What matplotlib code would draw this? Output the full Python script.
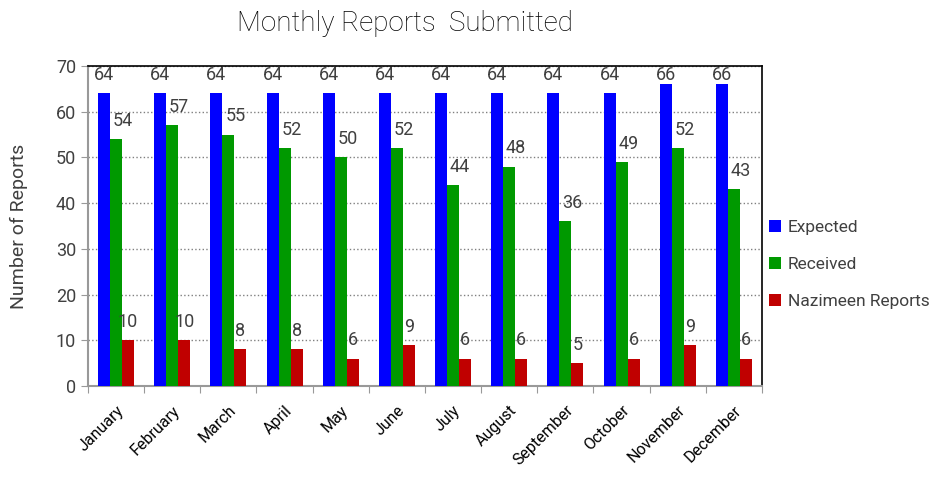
import numpy as np
import matplotlib.pyplot as plt
from matplotlib.transforms import offset_copy

months = ['January', 'February', 'March', 'April', 'May', 'June', 'July',
          'August', 'September', 'October', 'November', 'December']
expected = [64, 64, 64, 64, 64, 64, 64, 64, 64, 64, 66, 66]
received = [54, 57, 55, 52, 50, 52, 44, 48, 36, 49, 52, 43]
nazimeen = [10, 10, 8, 8, 6, 9, 6, 6, 5, 6, 9, 6]

series = [('Expected', expected, '#0000FF', 0),
          ('Received', received, '#009900', 5),
          ('Nazimeen Reports', nazimeen, '#C00000', 0)]

plt.rcParams['font.family'] = ['Roboto', 'DejaVu Sans']
txt = '#404040'

fig = plt.figure(figsize=(9.33, 4.8), dpi=100)
ax = fig.add_axes([0.0943, 0.1958, 0.7224, 0.6667])

x = np.arange(len(months))
w = 0.214
for i, (name, vals, col, dx) in enumerate(series):
    pos = x + (i - 1) * w
    ax.bar(pos, vals, w, color=col, label=name, zorder=3)
    tr = offset_copy(ax.transData, fig=fig, x=dx, y=0, units='points')
    for px, v in zip(pos, vals):
        ax.text(px, min(v + 4, 68), str(v), ha='center', va='center',
                fontsize=13, color=txt, zorder=4, transform=tr)

ax.set_xlim(-0.5, 11.5)
ax.set_ylim(0, 70)
ax.set_yticks(range(0, 71, 10))
ax.set_xticks(np.arange(-0.5, 12, 1))
ax.set_xticklabels([])
ax.set_xticks(x, minor=True)
ax.set_xticklabels(months, minor=True, rotation=45, ha='right',
                   rotation_mode='anchor', fontsize=11.5, color='black')
ax.tick_params(axis='x', which='minor', length=0, pad=12)
ax.tick_params(axis='x', which='major', length=5, color='#999999')
ax.tick_params(axis='y', length=5, color='#999999', labelsize=13,
               labelcolor=txt)
ax.grid(axis='y', linestyle=':', color='#808080', linewidth=1, zorder=0)

for s in ['left', 'bottom']:
    ax.spines[s].set_color('#999999')
    ax.spines[s].set_linewidth(1.5)
for s in ['top', 'right']:
    ax.spines[s].set_color('black')
    ax.spines[s].set_linewidth(1.2)

ax.set_ylabel('Number of Reports', fontsize=14, color=txt, labelpad=20)
fig.suptitle('Monthly Reports  Submitted', x=0.434, y=0.98, fontsize=20,
             color='black', fontweight='light')

ax.legend(loc='center left', bbox_to_anchor=(0.995, 0.38), frameon=False,
          fontsize=12.5, handlelength=0.7, handleheight=0.7,
          labelspacing=1.25, handletextpad=0.4, labelcolor=txt,
          borderaxespad=0.2)

fig.savefig('out.png', dpi=100)
